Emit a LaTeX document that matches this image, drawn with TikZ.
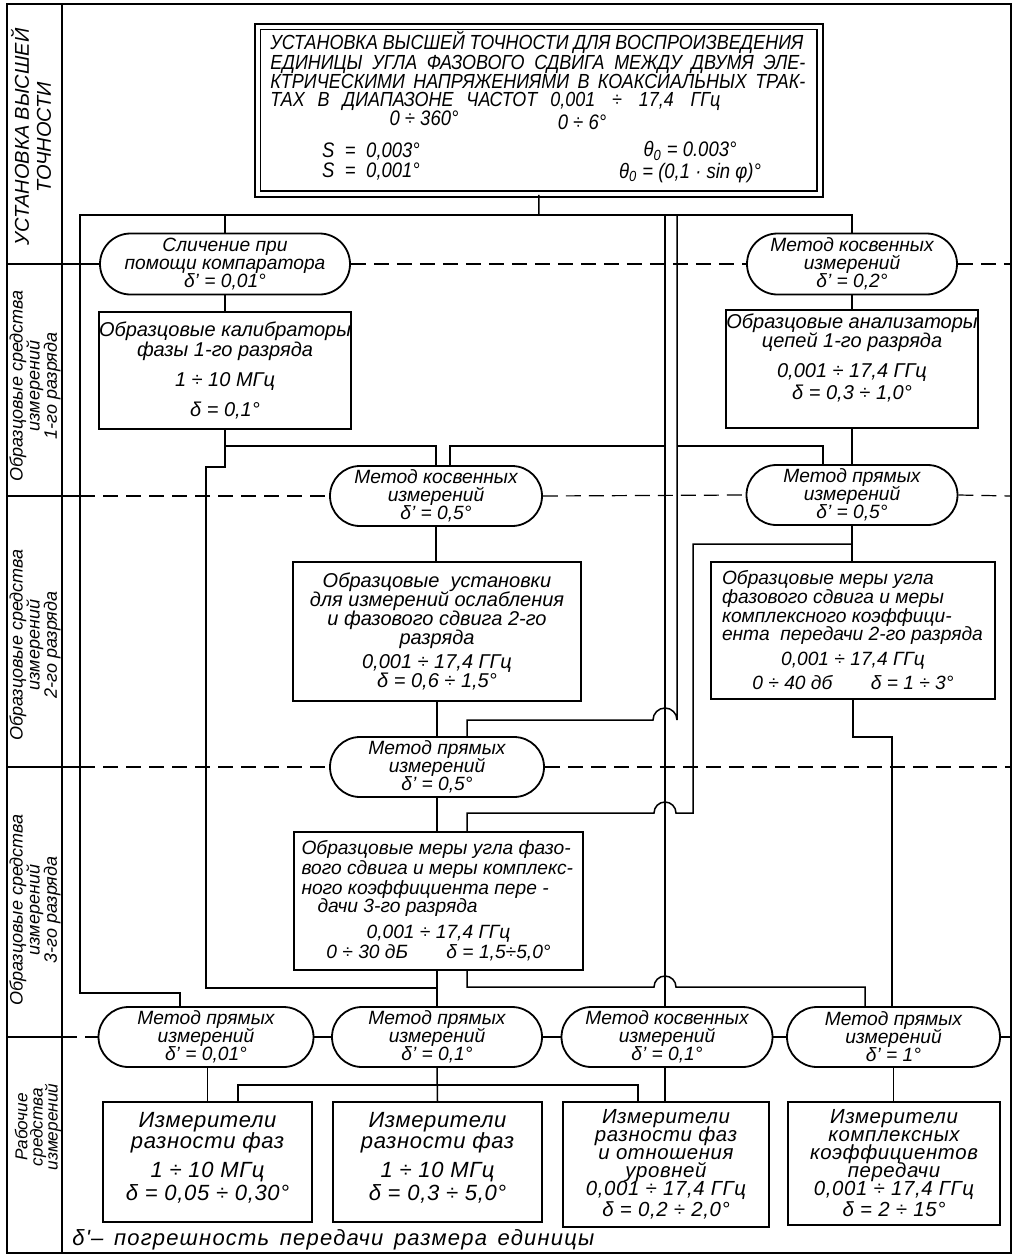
\documentclass[tikz,border=0pt]{standalone}
\usepackage{fontspec}
\setmainfont{Liberation Sans}
\newfontfamily\capsfont[FakeStretch=0.88]{Liberation Sans}
\newfontfamily\widefont[LetterSpace=5.5]{Liberation Sans}
\newfontfamily\wfont[LetterSpace=3]{Liberation Sans}
\usetikzlibrary{shapes.misc}
\lineskiplimit=-50pt
\lineskip=0pt
\begin{document}
\begin{tikzpicture}[x=0.5pt,y=-0.5pt,
  frame/.style={line width=0.8pt},
  conn/.style={line width=0.75pt},
  sepd/.style={line width=0.6pt, dash pattern=on 7.5pt off 4pt},
  seps/.style={line width=0.6pt},
  meth/.style={rounded rectangle, draw, line width=0.9pt, inner sep=0pt, align=center, font=\fontsize{9.6}{9}\selectfont\itshape},
  box/.style={rectangle, draw, line width=0.9pt, inner sep=0pt, align=center, font=\fontsize{10}{9.8}\selectfont\itshape},
  wbox/.style={box, font=\wfont\fontsize{11}{10.5}\selectfont\itshape},
  topbox/.style={rectangle, draw, line width=0.85pt, double, double distance=2pt, inner sep=0pt},
  capl/.style={inner sep=0pt, anchor=base west, font=\capsfont\fontsize{10.2}{10}\selectfont\itshape},
  capc/.style={inner sep=0pt, font=\capsfont\fontsize{10.5}{10}\selectfont\itshape},
  lab/.style={rotate=90, align=center, inner sep=0pt, font=\fontsize{9}{8.6}\selectfont\itshape},
]
\useasboundingbox (0,0) rectangle (1031,1258);
% frame and level column
\draw[frame] (7,4) rectangle (1011,1253);
\draw[frame] (62,4) -- (62,1253);

% level labels
\node[lab, font=\fontsize{10}{11}\selectfont\itshape] (lab1) at (31,137) {УСТАНОВКА ВЫСШЕЙ\\ТОЧНОСТИ};
\node[lab] (lab2) at (35,386) {Образцовые средства\\измерений\\1-го разряда};
\node[lab] (lab3) at (35,645) {Образцовые средства\\измерений\\2-го разряда};
\node[lab] (lab4) at (35,910) {Образцовые средства\\измерений\\3-го разряда};
\node[lab, font=\fontsize{8.6}{7.6}\selectfont\itshape] (lab5) at (38,1127) {Рабочие\\средства\\измерений};

% top box
\node[topbox, minimum width=281.25pt, minimum height=83.75pt] (T) at (538.75,110.25) {};
\node[capl] (t1) at (270,49) {\makebox[266.5pt][s]{УСТАНОВКА ВЫСШЕЙ ТОЧНОСТИ ДЛЯ ВОСПРОИЗВЕДЕНИЯ}};
\node[capl] (t2) at (270,69) {\makebox[267.5pt][s]{ЕДИНИЦЫ УГЛА ФАЗОВОГО СДВИГА МЕЖДУ ДВУМЯ ЭЛЕ-}};
\node[capl] (t3) at (270,88) {\makebox[267.5pt][s]{КТРИЧЕСКИМИ НАПРЯЖЕНИЯМИ В КОАКСИАЛЬНЫХ ТРАК-}};
\node[capl] (t4) at (270,106) {\makebox[133.5pt][s]{ТАХ В ДИАПАЗОНЕ ЧАСТОТ}\hspace{6.5pt}\makebox[85pt][s]{0,001 ÷ 17,4 ГГц}};
\node[capc] (t5a) at (424,118) {0 ÷ 360°};
\node[capc] (t5b) at (582,122) {0 ÷ 6°};
\node[capc] (t6a) at (371,152) {S\enspace=\enspace 0,003°};
\node[capc] (t6b) at (690,151) {θ\textsubscript{0} = 0.003°};
\node[capc] (t7a) at (371,172) {S\enspace=\enspace 0,001°};
\node[capc] (t7b) at (690,173) {θ\textsubscript{0} = (0,1 · sin φ)°};

% method nodes
\node[meth, minimum width=125pt, minimum height=30.5pt] (L1) at (225,264) {Сличение при\\помощи компаратора\\δ' = 0,01°};
\node[meth, minimum width=105pt, minimum height=30.5pt] (R1) at (852,264) {Метод косвенных\\измерений\\δ' = 0,2°};
\node[meth, minimum width=106pt, minimum height=30pt] (M1) at (436,496) {Метод косвенных\\измерений\\δ' = 0,5°};
\node[meth, minimum width=105.5pt, minimum height=30pt] (R2) at (852,495) {Метод прямых\\измерений\\δ' = 0,5°};
\node[meth, minimum width=107pt, minimum height=30pt] (M2) at (437,767) {Метод прямых\\измерений\\δ' = 0,5°};
\node[meth, minimum width=107.5pt, minimum height=30pt] (B1) at (206,1037) {Метод прямых\\измерений\\δ' = 0,01°};
\node[meth, minimum width=105pt, minimum height=30pt] (B2) at (437,1037) {Метод прямых\\измерений\\δ' = 0,1°};
\node[meth, minimum width=105.5pt, minimum height=30pt] (B3) at (667,1037) {Метод косвенных\\измерений\\δ' = 0,1°};
\node[meth, minimum width=106.5pt, minimum height=30pt] (B4) at (893.5,1037) {Метод прямых\\измерений\\δ' = 1°};

% boxes
\node[box, minimum width=126pt, minimum height=58.5pt, font=\fontsize{10}{10}\selectfont\itshape] (K1) at (225,370.5)
  {Образцовые калибраторы\\фазы 1-го разряда\\[5pt]1 ÷ 10 МГц\\[5pt]δ = 0,1°};
\node[box, minimum width=123.5pt, minimum height=59pt, font=\fontsize{10}{9.5}\selectfont\itshape] (A1) at (852,369)
  {Образцовые анализаторы\\цепей 1-го разряда\\[5.5pt]0,001 ÷ 17,4 ГГц\\[1.5pt]δ = 0,3 ÷ 1,0°\\[3pt]~};
\node[box, minimum width=144pt, minimum height=69.5pt] (U2) at (437,631.5)
  {Образцовые\ \ установки\\для измерений ослабления\\[-0.3pt]и фазового сдвига 2-го\\[-0.3pt]разряда\\[2pt]0,001 ÷ 17,4 ГГц\\δ = 0,6 ÷ 1,5°};
\node[box, minimum width=142pt, minimum height=68.5pt, font=\fontsize{9.6}{9.3}\selectfont\itshape] (MR2) at (853,630.5)
  {\makebox[131pt][l]{Образцовые меры угла}\\
   \makebox[131pt][l]{фазового сдвига и меры}\\
   \makebox[131pt][l]{комплексного коэффици-}\\
   \makebox[131pt][l]{ента\ \ передачи 2-го разряда}\\[3pt]
   0,001 ÷ 17,4 ГГц\\[3pt]
   0 ÷ 40 дб\qquad δ = 1 ÷ 3°};
\node[box, minimum width=144.5pt, minimum height=69pt, font=\fontsize{9.6}{9.8}\selectfont\itshape] (K3) at (438.5,901)
  {\makebox[137pt][l]{Образцовые меры угла фазо-}\\
   \makebox[137pt][l]{вого сдвига и меры комплекс-}\\
   \makebox[137pt][l]{ного коэффициента пере -}\\[-0.5pt]
   \makebox[137pt][l]{\hspace{8pt}дачи 3-го разряда}\\[3pt]
   0,001 ÷ 17,4 ГГц\\[0.5pt]
   0 ÷ 30 дБ\qquad δ = 1,5÷5,0°};
\node[wbox, minimum width=104.5pt, minimum height=60pt] (W1) at (207.5,1162)
  {Измерители\\разности фаз\\[4pt]1 ÷ 10 МГц\\[1pt]δ = 0,05 ÷ 0,30°\\[-5pt]~};
\node[wbox, minimum width=104.5pt, minimum height=60pt] (W2) at (437.5,1162)
  {Измерители\\разности фаз\\[4pt]1 ÷ 10 МГц\\[1pt]δ = 0,3 ÷ 5,0°\\[-5pt]~};
\node[wbox, minimum width=103pt, minimum height=62.5pt, font=\wfont\fontsize{10.2}{9}\selectfont\itshape] (W3) at (666,1164.5)
  {Измерители\\разности фаз\\и отношения\\уровней\\0,001 ÷ 17,4 ГГц\\[1.5pt]δ = 0,2 ÷ 2,0°};
\node[wbox, minimum width=106pt, minimum height=61.5pt, font=\wfont\fontsize{10.2}{9}\selectfont\itshape] (W4) at (894,1163.5)
  {Измерители\\комплексных\\коэффициентов\\передачи\\0,001 ÷ 17,4 ГГц\\[1.5pt]δ = 2 ÷ 15°};

% footnote
\node[anchor=base west, inner sep=0pt, font=\widefont\fontsize{11}{11}\selectfont\itshape] (note) at (72,1245)
  {\makebox[261pt][s]{δ'– погрешность передачи размера единицы}};

% level separators
\draw[seps] (7,264) -- (L1.west);
\draw[sepd] (L1.east) -- (R1.west);
\draw[sepd] (R1.east) -- (1011,264);
\draw[seps] (7,496) -- (80,496);
\draw[sepd] (80,496) -- (M1.west);
\draw[sepd] (M1.east) -- (R2.west);
\draw[sepd] (R2.east) -- (1011,496);
\draw[seps] (7,767) -- (80,767);
\draw[sepd] (80,767) -- (M2.west);
\draw[sepd] (M2.east) -- (1011,767);
\draw[seps] (7,1037) -- (62,1037);
\draw[sepd] (62,1037) -- (B1.west);
\coordinate (frameR) at (1011,1037);
\draw[conn] (B1.east) -- (B2.west);
\draw[conn] (B2.east) -- (B3.west);
\draw[conn] (B3.east) -- (B4.west);
\draw[conn] (B4.east) -- (frameR);

% connectors
\coordinate (jTop) at (539,215);
\coordinate (jL) at (80,215);
\coordinate (jR) at (852,215);
\coordinate (jLow) at (80,993);
\coordinate (jB1) at (180,993);
\draw[conn] (T.south) -- (jTop);
\draw[conn] (R1.north) -- (jR) -- (jL) -- (jLow) -- (jB1) -- (B1.north -| jB1);
\draw[conn] (L1.north) -- (L1.north |- jL);

\coordinate (jA) at (665,215);
\coordinate (jA2) at (665,446);
\coordinate (jM1) at (450,446);
\draw[conn] (jA) -- (B3.north -| jA);
\draw[conn] (jA2) -- (jM1) -- (M1.north -| jM1);

\coordinate (jC) at (677,215);
\coordinate (jC2) at (677,720);
\coordinate (jC3) at (677,446);
\coordinate (jM2) at (467,720);
\coordinate (jR2) at (823,446);
\draw[conn] (M2.north -| jM2) -- (jM2) -- (653,720) arc[start angle=180,end angle=0,radius=6pt] -- (jC2) -- (jC);
\draw[conn] (jC3) -- (jR2) -- (R2.north -| jR2);

\draw[conn] (L1.south) -- (K1.north);
\coordinate (jK1a) at (225,446);
\coordinate (jK1b) at (225,467);
\coordinate (jK1c) at (206,467);
\coordinate (jK1d) at (206,988);
\coordinate (jB2) at (437,988);
\draw[conn] (K1.south) -- (jK1b) -- (jK1c) -- (jK1d) -- (jB2);
\draw[conn] (jK1a) -- (jK1a -| M1.north) -- (M1.north);

\draw[conn] (M1.south) -- (U2.north -| M1.south);
\draw[conn] (U2.south) -- (M2.north);
\draw[conn] (M2.south) -- (K3.north -| M2.south);
\draw[conn] (K3.south -| B2.north) -- (B2.north);

\coordinate (jK3b) at (467,987);
\coordinate (jB4a) at (865,987);
\draw[conn] (K3.south -| jM2) -- (jK3b) -- (654,987) arc[start angle=180,end angle=0,radius=5.5pt] -- (jB4a) -- (B4.north -| jB4a);

\draw[conn] (R1.south) -- (A1.north);
\draw[conn] (A1.south) -- (R2.north);
\draw[conn] (R2.south) -- (MR2.north -| R2.south);

\coordinate (jR2a) at (852,544);
\coordinate (jR2b) at (693,544);
\coordinate (jR2c) at (693,813);
\coordinate (jK3t) at (467,813);
\draw[conn] (K3.north -| jK3t) -- (jK3t) -- (654,813) arc[start angle=180,end angle=0,radius=5.5pt] -- (jR2c) -- (jR2b) -- (jR2a);

\coordinate (jMa) at (853,737);
\coordinate (jMb) at (892,737);
\draw[conn] (MR2.south) -- (jMa) -- (jMb) -- (B4.north -| jMb);

\draw[conn] (B1.south -| W1.north) -- (W1.north);
\coordinate (jW1) at (238,1085);
\coordinate (jW3) at (638,1085);
\draw[conn] (B2.south) -- (W2.north);
\draw[conn] (W1.north -| jW1) -- (jW1) -- (jW3) -- (W3.north -| jW3);
\draw[conn] (B3.south -| jA) -- (W3.north -| jA);
\draw[conn] (B4.south) -- (W4.north -| B4.south);
\end{tikzpicture}
\end{document}
